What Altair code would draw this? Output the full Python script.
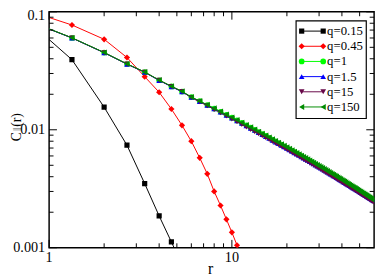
import altair as alt
import pandas as pd

# ---------------- data ----------------
# sampling grid r = 2k/3 (k = 1, 2, ...)
k_grid = list(range(1, 91))
r_grid = [round(2 * k / 3, 5) for k in k_grid]

c_q015 = [0.1012, 0.0393, 0.01556, 0.00740, 0.00350, 0.00186, 0.00112, 0.00072]

c_q045 = [0.110, 0.0773, 0.0585, 0.0410, 0.0282, 0.0208, 0.0150, 0.0109, 0.0080,
          0.00578, 0.00423, 0.00300, 0.00228, 0.00174, 0.00135, 0.00105, 0.00080]

c_q1 = [0.0916, 0.0601, 0.0451, 0.0361, 0.0308, 0.0263, 0.0233, 0.0211, 0.01892,
        0.01746, 0.01621, 0.01514, 0.01421, 0.01339, 0.01266, 0.01201, 0.01143, 0.01090, 0.01042,
        0.00998, 0.009578, 0.009207, 0.008864, 0.008547, 0.008251, 0.007976, 0.007718, 0.007477, 0.007250,
        0.007037, 0.006836, 0.006646, 0.006466, 0.006296, 0.006135, 0.005981, 0.005835, 0.005696, 0.005563,
        0.005436, 0.005315, 0.005199, 0.005088, 0.004982, 0.004880, 0.004782, 0.004687, 0.004597, 0.004509,
        0.004425, 0.004344, 0.004266, 0.004191, 0.004118, 0.004047, 0.003978, 0.003912, 0.003848, 0.003786,
        0.003726, 0.003668, 0.003611, 0.003556, 0.003503, 0.003451, 0.003401, 0.003352, 0.003305, 0.003259,
        0.003214, 0.003170, 0.003127, 0.003085, 0.003045, 0.003005, 0.002967, 0.002929, 0.002893, 0.002857,
        0.002822, 0.002787, 0.002754, 0.002721, 0.002689, 0.002658, 0.002628, 0.002597, 0.002568, 0.002540,
        0.002512]

c_q1_5 = [0.0914, 0.0600, 0.0450, 0.0360, 0.0307, 0.0262, 0.0232, 0.0210, 0.01885,
          0.01738, 0.01612, 0.01505, 0.01411, 0.01329, 0.01256, 0.01191, 0.01133, 0.01080, 0.01032,
          0.00988, 0.009480, 0.009110, 0.008770, 0.008455, 0.008162, 0.007890, 0.007634, 0.007395, 0.007170,
          0.006960, 0.006761, 0.006573, 0.006395, 0.006227, 0.006068, 0.005916, 0.005772, 0.005634, 0.005503,
          0.005378, 0.005259, 0.005144, 0.005035, 0.004930, 0.004829, 0.004732, 0.004638, 0.004549, 0.004462,
          0.004379, 0.004299, 0.004222, 0.004148, 0.004076, 0.004006, 0.003938, 0.003873, 0.003810, 0.003749,
          0.003690, 0.003632, 0.003576, 0.003522, 0.003469, 0.003418, 0.003368, 0.003320, 0.003274, 0.003228,
          0.003184, 0.003141, 0.003099, 0.003058, 0.003018, 0.002979, 0.002941, 0.002904, 0.002868, 0.002833,
          0.002799, 0.002765, 0.002733, 0.002701, 0.002670, 0.002640, 0.002610, 0.002581, 0.002553, 0.002526,
          0.002499]

c_q15 = [0.0916, 0.0601, 0.0451, 0.0361, 0.0308, 0.0263, 0.0233, 0.0211, 0.01873,
         0.01723, 0.01597, 0.01487, 0.01393, 0.01310, 0.01234, 0.01169, 0.01109, 0.01055, 0.01007,
         0.00963, 0.009243, 0.008885, 0.008554, 0.008248, 0.007962, 0.007697, 0.007448, 0.007215, 0.006996,
         0.006791, 0.006597, 0.006413, 0.006240, 0.006076, 0.005920, 0.005772, 0.005631, 0.005497, 0.005368,
         0.005246, 0.005129, 0.005017, 0.004910, 0.004808, 0.004709, 0.004615, 0.004523, 0.004436, 0.004351,
         0.004270, 0.004192, 0.004117, 0.004044, 0.003974, 0.003905, 0.003839, 0.003775, 0.003713, 0.003653,
         0.003596, 0.003540, 0.003485, 0.003432, 0.003380, 0.003330, 0.003282, 0.003235, 0.003189, 0.003145,
         0.003102, 0.003059, 0.003018, 0.002977, 0.002938, 0.002900, 0.002863, 0.002826, 0.002792, 0.002757,
         0.002723, 0.002689, 0.002658, 0.002626, 0.002595, 0.002565, 0.002536, 0.002506, 0.002478, 0.002451,
         0.002424]

c_q150 = [0.0918, 0.0602, 0.0452, 0.0362, 0.0309, 0.0264, 0.0234, 0.0212, 0.01898,
          0.01753, 0.01629, 0.01522, 0.01429, 0.01347, 0.01274, 0.01209, 0.01151, 0.01098, 0.01050,
          0.01006, 0.009656, 0.009284, 0.008940, 0.008622, 0.008325, 0.008049, 0.007790, 0.007548, 0.007320,
          0.007106, 0.006904, 0.006713, 0.006532, 0.006361, 0.006199, 0.006044, 0.005897, 0.005757, 0.005623,
          0.005495, 0.005373, 0.005256, 0.005144, 0.005036, 0.004933, 0.004834, 0.004738, 0.004646, 0.004557,
          0.004472, 0.004389, 0.004310, 0.004233, 0.004159, 0.004087, 0.004017, 0.003950, 0.003884, 0.003821,
          0.003760, 0.003700, 0.003642, 0.003586, 0.003531, 0.003478, 0.003427, 0.003377, 0.003328, 0.003281,
          0.003235, 0.003190, 0.003146, 0.003103, 0.003062, 0.003021, 0.002982, 0.002943, 0.002905, 0.002868,
          0.002832, 0.002797, 0.002763, 0.002729, 0.002696, 0.002664, 0.002633, 0.002602, 0.002572, 0.002543,
          0.002514]

names = ["q=0.15", "q=0.45", "q=1", "q=1.5", "q=15", "q=150"]
values = [c_q015, c_q045, c_q1, c_q1_5, c_q15, c_q150]
colors = ["#000000", "#ff0000", "#00ff00", "#0000ff", "#670748", "#008b00"]
shapes = ["square", "diamond", "circle", "triangle-up", "triangle-down", "triangle-left"]
sizes = [28, 40, 34, 34, 34, 36]

x_major = [1, 10]
x_major_labels = ["1", "10"]
x_minor = [2, 3, 4, 5, 6, 7, 8, 9, 20, 30, 40, 50]
y_major = [0.001, 0.01, 0.1]
y_major_labels = ["0.001", "0.01", "0.1"]
y_minor = [0.002, 0.003, 0.004, 0.005, 0.006, 0.007, 0.008, 0.009,
           0.02, 0.03, 0.04, 0.05, 0.06, 0.07, 0.08, 0.09]

# ---------------- layout ----------------
W, H = 332, 241
FONT = "Liberation Serif"
LBL = 14.5
TMAJ, TMIN = 8, 4.5
LEG_X1, LEG_X2, LEG_TX = 258, 280, 284
LEG_Y0, LEG_DY = 19.7, 15.5
BOX = dict(x=252.3, x2=324, y=9.3, y2=109)

xs = alt.Scale(type="log", domain=[1, 60], nice=False)
ys = alt.Scale(type="log", domain=[0.001, 0.1], nice=False)

layers = []
for i, (nm, vals, col, shp, sz) in enumerate(zip(names, values, colors, shapes, sizes)):
    df = pd.DataFrame({"r": r_grid[:len(vals)], "C": vals})
    line = alt.Chart(df).mark_line(color=col, strokeWidth=1, clip=True).encode(
        x=alt.X("r:Q", scale=xs, axis=None),
        y=alt.Y("C:Q", scale=ys, axis=None),
    )
    pts = alt.Chart(df).mark_point(shape=shp, filled=True, color=col, size=sz,
                                   opacity=1, clip=True).encode(
        x=alt.X("r:Q", scale=xs, axis=None),
        y=alt.Y("C:Q", scale=ys, axis=None),
    )
    layers += [line, pts]


# inward ticks on all four sides
def yticks(vals, x0, x1):
    return alt.Chart(pd.DataFrame({"v": vals})).mark_rule(color="black", strokeWidth=1).encode(
        y=alt.Y("v:Q", scale=ys, axis=None), x=alt.value(x0), x2=alt.value(x1))


def xticks(vals, y0, y1):
    return alt.Chart(pd.DataFrame({"v": vals})).mark_rule(color="black", strokeWidth=1).encode(
        x=alt.X("v:Q", scale=xs, axis=None), y=alt.value(y0), y2=alt.value(y1))


layers += [
    yticks(y_major, 0, TMAJ), yticks(y_minor, 0, TMIN),
    yticks(y_major, W, W - TMAJ), yticks(y_minor, W, W - TMIN),
    xticks(x_major, H, H - TMAJ), xticks(x_minor, H, H - TMIN),
    xticks(x_major, 0, TMAJ), xticks(x_minor, 0, TMIN),
]

# tick labels (through the scales)
ylab = pd.DataFrame({"v": y_major, "t": y_major_labels})
layers.append(
    alt.Chart(ylab[ylab.v < 0.05]).mark_text(
        font=FONT, fontSize=LBL, align="right", baseline="middle", color="black"
    ).encode(y=alt.Y("v:Q", scale=ys, axis=None), x=alt.value(-4), text="t:N")
)
layers.append(
    alt.Chart(ylab[ylab.v > 0.05]).mark_text(
        font=FONT, fontSize=LBL, align="right", baseline="middle", dy=4, color="black"
    ).encode(y=alt.Y("v:Q", scale=ys, axis=None), x=alt.value(-4), text="t:N")
)
xlab = pd.DataFrame({"v": x_major, "t": x_major_labels})
layers.append(
    alt.Chart(xlab).mark_text(
        font=FONT, fontSize=LBL, align="center", baseline="top", color="black"
    ).encode(x=alt.X("v:Q", scale=xs, axis=None), y=alt.value(H + 4), text="t:N")
)
# x title
layers.append(
    alt.Chart(pd.DataFrame({"t": ["r"]})).mark_text(
        font=FONT, fontSize=16, align="center", baseline="alphabetic", color="black"
    ).encode(x=alt.value(W / 2 - 1), y=alt.value(H + 27), text="t:N")
)

# y title  C_||(r)
title_parts = pd.DataFrame({"t": ["C", "(r)"], "ty": [127.5, 110.5]})
layers.append(
    alt.Chart(title_parts).mark_text(font=FONT, fontSize=14, angle=270, align="center",
                                     baseline="alphabetic", color="black").encode(
        x=alt.value(-28.5), y=alt.Y("ty:Q", scale=None), text="t:N")
)
layers.append(
    alt.Chart(pd.DataFrame({"t": ["||"]})).mark_text(font=FONT, fontSize=8, angle=270, align="center",
                                                     baseline="middle", color="black").encode(
        x=alt.value(-33), y=alt.value(120), text="t:N")
)

# legend
layers.append(
    alt.Chart(pd.DataFrame({"a": [0]})).mark_rect(fill="white", stroke="black", strokeWidth=1.2).encode(
        x=alt.value(BOX["x"]), x2=alt.value(BOX["x2"]), y=alt.value(BOX["y"]), y2=alt.value(BOX["y2"]))
)
for i, (nm, col, shp, sz) in enumerate(zip(names, colors, shapes, sizes)):
    ly = LEG_Y0 + i * LEG_DY
    seg = pd.DataFrame({"lx": [LEG_X1, LEG_X2], "ly": [ly, ly], "t": [nm, nm]})
    layers.append(alt.Chart(seg).mark_line(color=col, strokeWidth=1).encode(
        x=alt.X("lx:Q", scale=None), y=alt.Y("ly:Q", scale=None)))
    layers.append(alt.Chart(seg).mark_point(shape=shp, filled=True, color=col, size=sz, opacity=1).encode(
        x=alt.X("lx:Q", scale=None), y=alt.Y("ly:Q", scale=None)))
    layers.append(alt.Chart(seg.iloc[:1]).mark_text(font=FONT, fontSize=13, align="left",
                                                    baseline="middle", color="black").encode(
        x=alt.value(LEG_TX), y=alt.Y("ly:Q", scale=None), text="t:N"))

chart = alt.layer(*layers).properties(
    width=W, height=H,
    autosize=alt.AutoSizeParams(type="none"),
    padding={"left": 42, "top": 1, "right": 5, "bottom": 27},
).configure_view(stroke="black", strokeWidth=1.5)

chart.save("out.html", embed_options={"renderer": "svg", "actions": False})
